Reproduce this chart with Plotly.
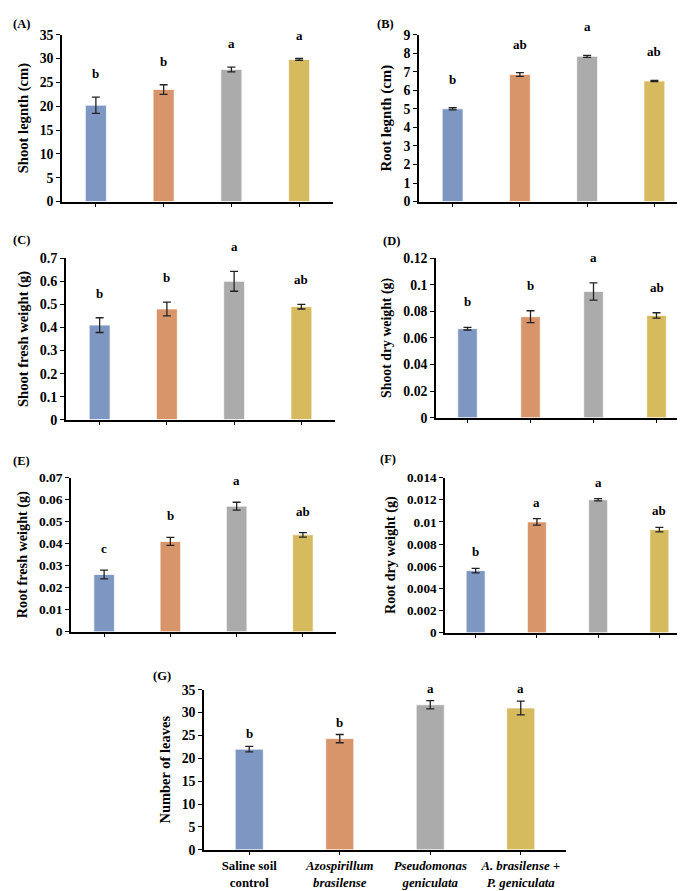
import plotly.graph_objects as go

# ---------------- data ----------------
categories = ["Saline soil control", "Azospirillum brasilense",
              "Pseudomonas geniculata", "A. brasilense + P. geniculata"]
category_labels = ["Saline soil<br>control",
                   "<i>Azospirillum</i><br><i>brasilense</i>",
                   "<i>Pseudomonas</i><br><i>geniculata</i>",
                   "<i>A. brasilense +</i><br><i>P. geniculata</i>"]
bar_colors = ["#7E97C2", "#D9956A", "#ABABAB", "#D6BA5E"]

shoot_length = [20.2, 23.5, 27.7, 29.8]
shoot_length_err = [1.7, 1.0, 0.5, 0.2]
shoot_length_letters = ["b", "b", "a", "a"]
shoot_length_ticks = ["0", "5", "10", "15", "20", "25", "30", "35"]

root_length = [5.0, 6.85, 7.83, 6.5]
root_length_err = [0.06, 0.1, 0.05, 0.03]
root_length_letters = ["b", "ab", "a", "ab"]
root_length_ticks = ["0", "1", "2", "3", "4", "5", "6", "7", "8", "9"]

shoot_fresh = [0.41, 0.48, 0.60, 0.49]
shoot_fresh_err = [0.032, 0.03, 0.043, 0.01]
shoot_fresh_letters = ["b", "b", "a", "ab"]
shoot_fresh_ticks = ["0", "0.1", "0.2", "0.3", "0.4", "0.5", "0.6", "0.7"]

shoot_dry = [0.067, 0.076, 0.095, 0.077]
shoot_dry_err = [0.001, 0.0045, 0.0065, 0.002]
shoot_dry_letters = ["b", "b", "a", "ab"]
shoot_dry_ticks = ["0", "0.02", "0.04", "0.06", "0.08", "0.1", "0.12"]

root_fresh = [0.026, 0.041, 0.057, 0.044]
root_fresh_err = [0.002, 0.0018, 0.0018, 0.001]
root_fresh_letters = ["c", "b", "a", "ab"]
root_fresh_ticks = ["0", "0.01", "0.02", "0.03", "0.04", "0.05", "0.06", "0.07"]

root_dry = [0.0056, 0.0100, 0.0120, 0.0093]
root_dry_err = [0.0002, 0.0003, 0.0001, 0.0002]
root_dry_letters = ["b", "a", "a", "ab"]
root_dry_ticks = ["0", "0.002", "0.004", "0.006", "0.008", "0.01", "0.012", "0.014"]

leaves = [22.0, 24.3, 31.7, 31.0]
leaves_err = [0.6, 0.9, 0.9, 1.5]
leaves_letters = ["b", "b", "a", "a"]
leaves_ticks = ["0", "5", "10", "15", "20", "25", "30", "35"]

panel_tags = ["(A)", "(B)", "(C)", "(D)", "(E)", "(F)", "(G)"]
y_titles = ["Shoot legnth (cm)", "Root legnth (cm)", "Shoot fresh weight (g)",
            "Shoot dry weight (g)", "Root fresh weight (g)", "Root dry weight (g)",
            "Number of leaves"]

# ---------------- layout geometry / styles (pixels) ----------------
W, H = 685, 891
# (x0, x1, ytop, ybottom, tag_x, tag_y, letter_shift, title_size, tick_size)
boxes = [
    (54, 325, 19, 189, 3, 8, 14, 14.6, 13.8),
    (411, 680, 19, 189, 367, 8, 19, 14.9, 13.8),
    (58, 327, 246.7, 411, 3, 228, 15, 14.6, 14.2),
    (428, 680, 246.7, 409, 373, 229, 16, 13.8, 13.8),
    (63, 328, 470, 627, 3, 453, 12, 14.2, 13.5),
    (437, 682, 470, 628, 370, 451, 7, 14.2, 13.2),
    (196, 558, 686, 849, 143, 672, 3, 14.5, 13.8),
]

panels = [
    (shoot_length, shoot_length_err, shoot_length_letters, shoot_length_ticks),
    (root_length, root_length_err, root_length_letters, root_length_ticks),
    (shoot_fresh, shoot_fresh_err, shoot_fresh_letters, shoot_fresh_ticks),
    (shoot_dry, shoot_dry_err, shoot_dry_letters, shoot_dry_ticks),
    (root_fresh, root_fresh_err, root_fresh_letters, root_fresh_ticks),
    (root_dry, root_dry_err, root_dry_letters, root_dry_ticks),
    (leaves, leaves_err, leaves_letters, leaves_ticks),
]

SERIF = "Liberation Serif"
fig = go.Figure()
annotations = []
layout = {}

for i, ((vals, errs, letters, ticks), box, tag, ytitle) in enumerate(
        zip(panels, boxes, panel_tags, y_titles)):
    n = "" if i == 0 else str(i + 1)
    x0, x1, yt, yb, tx, ty, lshift, tsize, ksize = box
    fig.add_trace(go.Bar(
        x=categories, y=vals,
        xaxis="x" + n, yaxis="y" + n,
        width=0.31,
        marker=dict(color=bar_colors, line=dict(color="rgba(255,255,255,0.7)", width=1)),
        error_y=dict(type="data", array=errs, visible=True,
                     color="#222222", thickness=1.3, width=4),
        showlegend=False, hoverinfo="x+y",
    ))
    is_last = (i == len(panels) - 1)
    layout["xaxis" + n] = dict(
        domain=[x0 / W, x1 / W], anchor="y" + n,
        type="category", categoryorder="array", categoryarray=categories,
        range=[-0.5, 3.5],
        showline=True, linecolor="black", linewidth=1.5,
        ticks="outside", ticklen=3 if is_last else 4, tickwidth=1.2, tickcolor="black",
        showgrid=False, zeroline=False,
        showticklabels=is_last,
        tickvals=categories, ticktext=category_labels,
        tickfont=dict(family=SERIF, size=12.8, color="black", weight="bold"),
    )
    tv = [float(t) for t in ticks]
    layout["yaxis" + n] = dict(
        domain=[1 - yb / H, 1 - yt / H], anchor="x" + n,
        range=[0, tv[-1]],
        tickvals=tv, ticktext=ticks,
        showline=True, linecolor="black", linewidth=1.5,
        ticks="outside", ticklen=4, tickwidth=1.2, tickcolor="black",
        showgrid=False, zeroline=False,
        tickfont=dict(family=SERIF, size=ksize, color="black", weight="bold"),
        title=dict(text=ytitle, standoff=8,
                   font=dict(family=SERIF, size=tsize, color="black", weight="bold")),
    )
    # significance letters
    for c, v, e, l in zip(categories, vals, errs, letters):
        annotations.append(dict(
            x=c, y=v + e, xref="x" + n, yref="y" + n, text="<b>%s</b>" % l,
            showarrow=False, yanchor="bottom", yshift=lshift,
            font=dict(family=SERIF, size=13, color="black")))
    # panel tag
    annotations.append(dict(
        x=tx / W, y=1 - ty / H, xref="paper", yref="paper", text="<b>%s</b>" % tag,
        showarrow=False, xanchor="left", yanchor="middle",
        font=dict(family=SERIF, size=12.5, color="black")))

fig.update_layout(
    width=W, height=H,
    margin=dict(l=0, r=0, t=0, b=0),
    paper_bgcolor="white", plot_bgcolor="white",
    annotations=annotations,
    **layout,
)

fig.write_html("out.html")
